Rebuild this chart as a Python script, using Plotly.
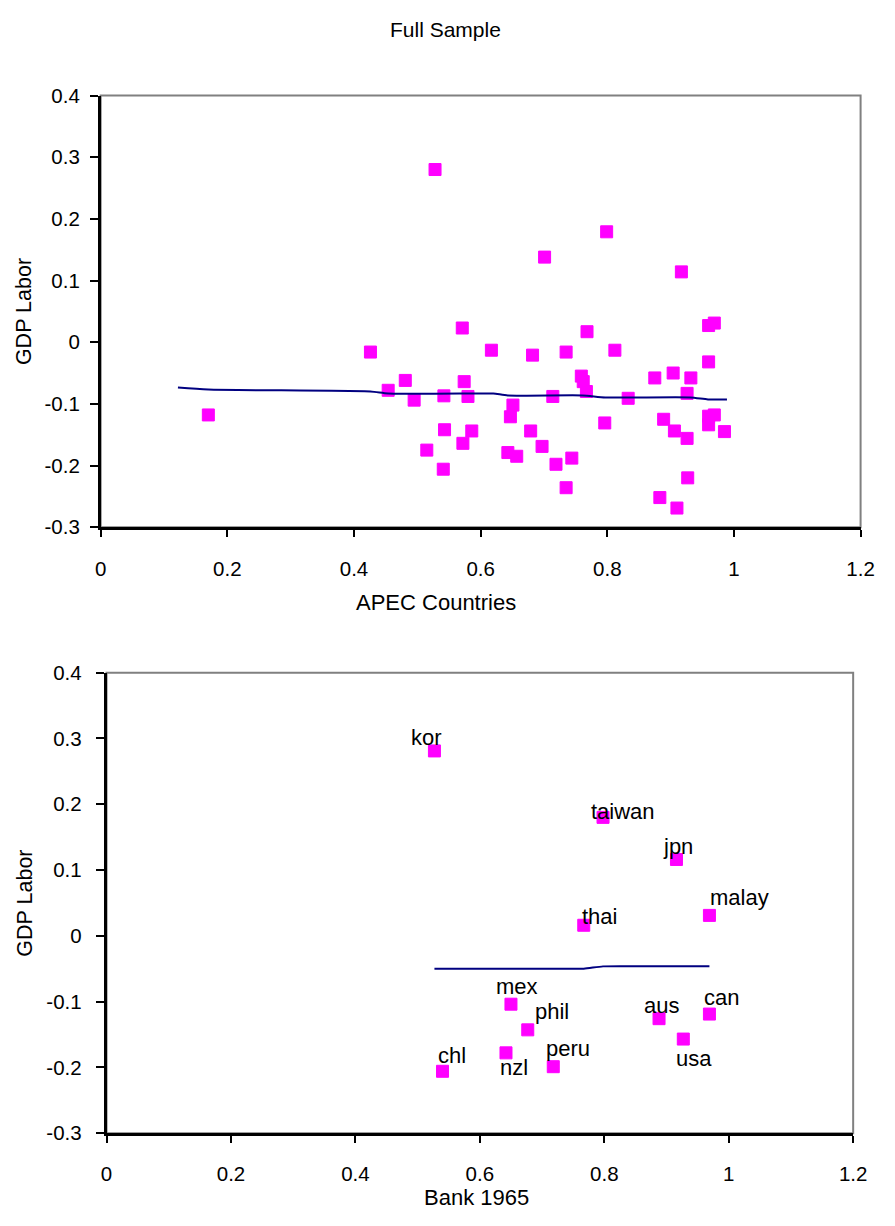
import plotly.graph_objects as go

# ---------------- data: Full Sample (top panel) ----------------
full_x = [0.528, 0.571, 0.426, 0.481, 0.574, 0.454, 0.542, 0.580, 0.495, 0.170,
          0.543, 0.586, 0.572, 0.515, 0.541, 0.799, 0.701, 0.917, 0.960, 0.969,
          0.768, 0.617, 0.682, 0.735, 0.812, 0.960, 0.759, 0.762, 0.767, 0.875,
          0.904, 0.932, 0.926, 0.714, 0.833, 0.651, 0.647, 0.679, 0.796, 0.889,
          0.906, 0.926, 0.960, 0.969, 0.960, 0.985, 0.697, 0.643, 0.657, 0.719,
          0.744, 0.735, 0.927, 0.883, 0.910]
full_y = [0.280, 0.023, -0.016, -0.062, -0.064, -0.078, -0.087, -0.088, -0.094, -0.118,
          -0.142, -0.144, -0.164, -0.175, -0.206, 0.179, 0.138, 0.114, 0.027, 0.031,
          0.017, -0.013, -0.021, -0.016, -0.013, -0.032, -0.055, -0.064, -0.080, -0.058,
          -0.050, -0.058, -0.083, -0.088, -0.091, -0.102, -0.121, -0.144, -0.131, -0.125,
          -0.144, -0.156, -0.120, -0.118, -0.134, -0.145, -0.169, -0.179, -0.185, -0.198,
          -0.188, -0.236, -0.220, -0.252, -0.269]
full_fit_x = [0.122, 0.170, 0.426, 0.454, 0.592, 0.620, 0.643, 0.761, 0.797, 0.931, 0.959, 0.989]
full_fit_y = [-0.0736, -0.0768, -0.0800, -0.0832, -0.0832, -0.0832, -0.0864, -0.0864,
              -0.0896, -0.0896, -0.0928, -0.0928]

# ---------------- data: APEC countries (bottom panel) ----------------
countries = ["kor", "taiwan", "jpn", "malay", "thai", "mex", "phil", "aus", "can",
             "usa", "nzl", "peru", "chl"]
apec_x = [0.527, 0.798, 0.916, 0.969, 0.767, 0.650, 0.677, 0.888, 0.969,
          0.927, 0.642, 0.718, 0.540]
apec_y = [0.281, 0.180, 0.116, 0.031, 0.016, -0.104, -0.143, -0.126, -0.119,
          -0.157, -0.178, -0.199, -0.206]
apec_fit_x = [0.527, 0.540, 0.642, 0.650, 0.677, 0.718, 0.767, 0.798, 0.888, 0.916, 0.927, 0.969]
apec_fit_y = [-0.050, -0.050, -0.050, -0.050, -0.050, -0.050, -0.050, -0.0465, -0.0465,
              -0.0465, -0.0465, -0.0465]

x_ticks = [0, 0.2, 0.4, 0.6, 0.8, 1.0, 1.2]
x_tick_labels = ["0", "0.2", "0.4", "0.6", "0.8", "1", "1.2"]
y_ticks = [-0.3, -0.2, -0.1, 0, 0.1, 0.2, 0.3, 0.4]
y_tick_labels = ["-0.3", "-0.2", "-0.1", "0", "0.1", "0.2", "0.3", "0.4"]

# label offsets (pixels) for the country annotations: style only
label_dx = [-8, 20, 2, 30, 16, 6, 24, 2, 12, 11, 8, 15, 9]
label_dy = [13, 6, 13, 18, 9, 18, 18, 13, 17, -19, -15, 18, 16]

PAGE_W, PAGE_H = 895, 1226
PAGE_OFF = 8  # default body margin of the page that holds the figure
W, H = PAGE_W - 2 * PAGE_OFF, PAGE_H - 2 * PAGE_OFF  # figure fits the window exactly
FONT = "Arial, Liberation Sans, sans-serif"
MAGENTA = "#FF00FF"
NAVY = "#000080"

fig = go.Figure()

marker_style = dict(symbol="square", size=12, color=MAGENTA, line=dict(color=MAGENTA, width=1))

fig.add_trace(go.Scatter(x=full_x, y=full_y, mode="markers", marker=marker_style,
                         xaxis="x", yaxis="y", showlegend=False, hoverinfo="x+y"))
fig.add_trace(go.Scatter(x=full_fit_x, y=full_fit_y, mode="lines",
                         line=dict(color=NAVY, width=2, shape="spline", smoothing=0.6),
                         xaxis="x", yaxis="y", showlegend=False))
fig.add_trace(go.Scatter(x=apec_x, y=apec_y, mode="markers", marker=marker_style,
                         text=countries, xaxis="x2", yaxis="y2", showlegend=False))
fig.add_trace(go.Scatter(x=apec_fit_x, y=apec_fit_y, mode="lines",
                         line=dict(color=NAVY, width=2, shape="spline", smoothing=0.6),
                         xaxis="x2", yaxis="y2", showlegend=False))


def px_x(p):
    """page pixel x -> paper fraction"""
    return (p - PAGE_OFF) / W


def px_y(p):
    """page pixel y (from top) -> paper fraction"""
    return 1 - (p - PAGE_OFF) / H


def x_axis(domain, anchor):
    return dict(domain=domain, anchor=anchor, range=[0, 1.2], tickvals=x_ticks,
                ticktext=x_tick_labels, ticks="outside", ticklen=7, tickwidth=2,
                tickcolor="black", showline=True, linecolor="black", linewidth=2.5,
                showgrid=False, zeroline=False,
                tickfont=dict(family=FONT, size=20.5, color="black"),
                ticklabelstandoff=14, fixedrange=True)


def y_axis(domain, anchor, standoff):
    return dict(domain=domain, anchor=anchor, range=[-0.3, 0.4], tickvals=y_ticks,
                ticktext=y_tick_labels, ticks="outside", ticklen=8, tickwidth=2,
                tickcolor="black", showline=True, linecolor="black", linewidth=2.5,
                showgrid=False, zeroline=False,
                tickfont=dict(family=FONT, size=20.5, color="black"),
                ticklabelstandoff=standoff, fixedrange=True)


top_dom_x = [px_x(96.7), px_x(874.3)]
top_dom_y = [px_y(525), px_y(85)]
bot_dom_x = [px_x(102.7), px_x(866.7)]
bot_dom_y = [px_y(1142.7), px_y(673.3)]

fig.update_layout(
    width=W, height=H,
    margin=dict(l=0, r=0, t=0, b=0),
    paper_bgcolor="white", plot_bgcolor="white",
    xaxis=x_axis(top_dom_x, "y"),
    yaxis=y_axis(top_dom_y, "x", 6),
    xaxis2=x_axis(bot_dom_x, "y2"),
    yaxis2=y_axis(bot_dom_y, "x2", 10),
    font=dict(family=FONT, color="black"),
)

# gray plot-area frames
for xr, yr in (("x domain", "y domain"), ("x2 domain", "y2 domain")):
    fig.add_shape(type="rect", xref=xr, yref=yr, x0=0, x1=1, y0=0, y1=1,
                  line=dict(color="#808080", width=2), layer="below")


def paper_note(text, x, y, size, angle=0):
    return dict(text=text, x=px_x(x), y=px_y(y), xref="paper", yref="paper",
                xanchor="center", yanchor="middle", showarrow=False, textangle=angle,
                font=dict(size=size, family=FONT, color="black"))


annotations = [
    paper_note("Full Sample", 450, 18, 21),
    paper_note("APEC Countries", 440, 602, 22),
    paper_note("Bank 1965", 481, 1208, 22),
    paper_note("GDP Labor", 19, 305, 21.5, -90),
    paper_note("GDP Labor", 19, 908, 21.5, -90),
]
for name, xv, yv, dx, dy in zip(countries, apec_x, apec_y, label_dx, label_dy):
    annotations.append(dict(text=name, x=xv, y=yv, xref="x2", yref="y2", showarrow=False,
                            xanchor="center", yanchor="middle", xshift=dx, yshift=dy,
                            font=dict(size=22, family=FONT, color="black")))
fig.update_layout(annotations=annotations)

fig.write_html("out.html")
